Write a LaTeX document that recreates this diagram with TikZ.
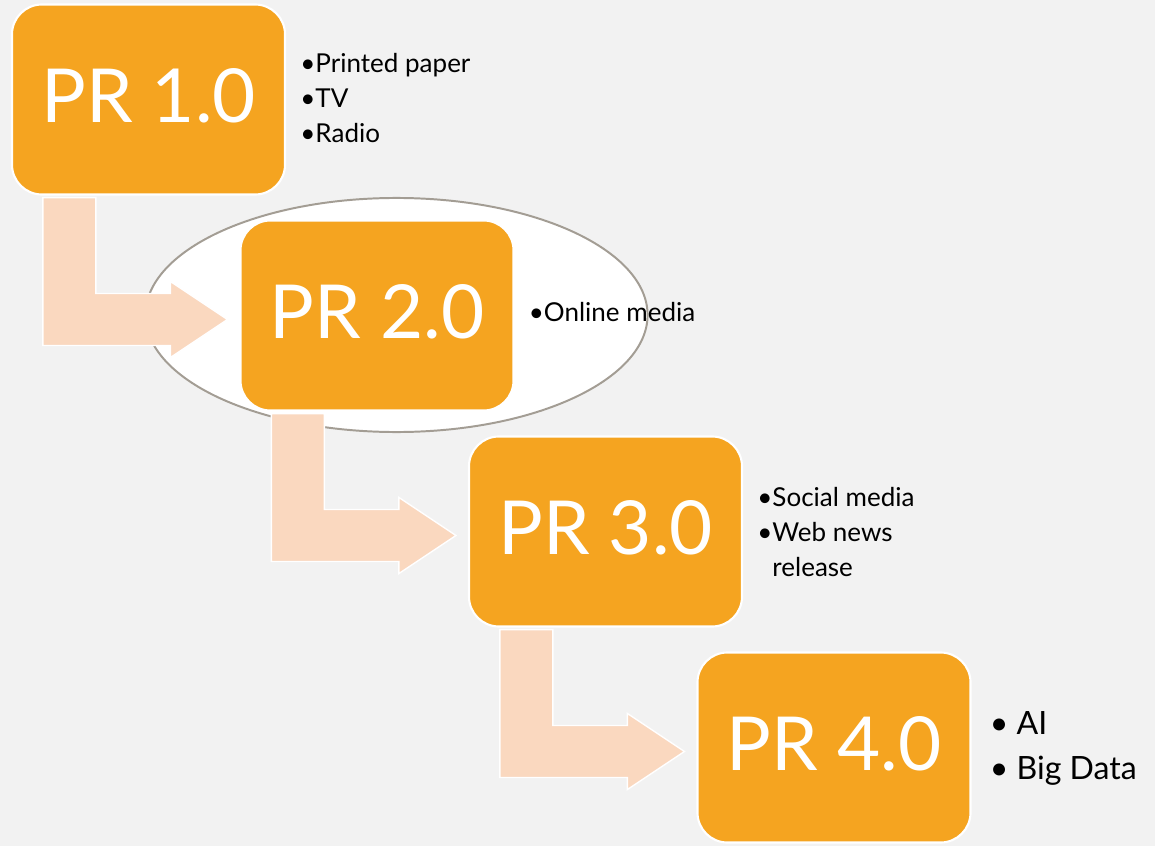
\documentclass[tikz,border=0pt]{standalone}
\usepackage{fontspec}
\setmainfont{Lato}
\usepackage{xcolor}
\usetikzlibrary{shapes.geometric, positioning, calc}

\definecolor{prorange}{HTML}{F5A420}
\definecolor{prpeach}{HTML}{FAD8BF}
\definecolor{prback}{HTML}{F2F2F2}
\definecolor{prring}{HTML}{A39D94}

\begin{document}
\begin{tikzpicture}[
    x=0.025cm, y=-0.025cm,
    stage/.style={rectangle, rounded corners=0.75cm, draw=white, line width=1.5pt, fill=prorange, text=white, minimum width=6.825cm, minimum height=4.75cm, text depth=0.2cm, font=\fontsize{53}{60}\selectfont},
    halo/.style={ellipse, draw=prring, line width=1.4pt, fill=white, minimum width=12.55cm, minimum height=5.85cm},
    flow/.style={fill=prpeach, draw=white, line width=1pt},
    notes/.style={anchor=north west, inner sep=0pt, align=left, font=\fontsize{18.5}{24.9}\selectfont},
    bignotes/.style={notes, font=\fontsize{22.8}{32}\selectfont}
]
    \useasboundingbox (0,0) rectangle (1155,846);
    \fill[prback] (0,0) rectangle (1155,846);

    % Highlight behind PR 2.0
    \node [halo] (ring) at (396.5,315) {};

    % Stages
    \node [stage] (pr1) at (148.5,99.5) {PR 1.0};
    \node [stage] (pr2) at ($(pr1)+(228.5,216)$) {PR 2.0};
    \node [stage] (pr3) at ($(pr2)+(228.5,216)$) {PR 3.0};
    \node [stage] (pr4) at ($(pr3)+(228.5,216)$) {PR 4.0};

    % PR 1.0 to PR 2.0
    \fill[flow] ($(pr1.south west)+(32,2)$) -- ++(53,0)
        -- ($(pr1.south west |- pr2.west)+(85,-22)$) -- ($(pr2.west)+(-69,-22)$)
        -- ($(pr2.west)+(-69,-34)$) -- ($(pr2.west)+(-12,4)$) -- ($(pr2.west)+(-69,42)$)
        -- ($(pr2.west)+(-69,30)$) -- ($(pr1.south west |- pr2.west)+(32,30)$) -- cycle;

    % PR 2.0 to PR 3.0
    \fill[flow] ($(pr2.south west)+(32,2)$) -- ++(53,0)
        -- ($(pr2.south west |- pr3.west)+(85,-22)$) -- ($(pr3.west)+(-69,-22)$)
        -- ($(pr3.west)+(-69,-34)$) -- ($(pr3.west)+(-12,4)$) -- ($(pr3.west)+(-69,42)$)
        -- ($(pr3.west)+(-69,30)$) -- ($(pr2.south west |- pr3.west)+(32,30)$) -- cycle;

    % PR 3.0 to PR 4.0
    \fill[flow] ($(pr3.south west)+(32,2)$) -- ++(53,0)
        -- ($(pr3.south west |- pr4.west)+(85,-22)$) -- ($(pr4.west)+(-69,-22)$)
        -- ($(pr4.west)+(-69,-34)$) -- ($(pr4.west)+(-12,4)$) -- ($(pr4.west)+(-69,42)$)
        -- ($(pr4.west)+(-69,30)$) -- ($(pr3.south west |- pr4.west)+(32,30)$) -- cycle;

    % Media lists
    \node [notes] (media1) at ($(pr1.north east)+(14,49.5)$) {•Printed paper\\•TV\\•Radio};
    \node [notes] (media2) at ($(pr2.north east)+(14,82.5)$) {•Online media};
    \node [notes] (media3) at ($(pr3.north east)+(14,51.5)$) {•Social media\\•Web news\\\hphantom{•}release};
    \node [bignotes] (media4) at ($(pr4.north east)+(18,60)$) {• AI\\• Big Data};
\end{tikzpicture}
\end{document}
